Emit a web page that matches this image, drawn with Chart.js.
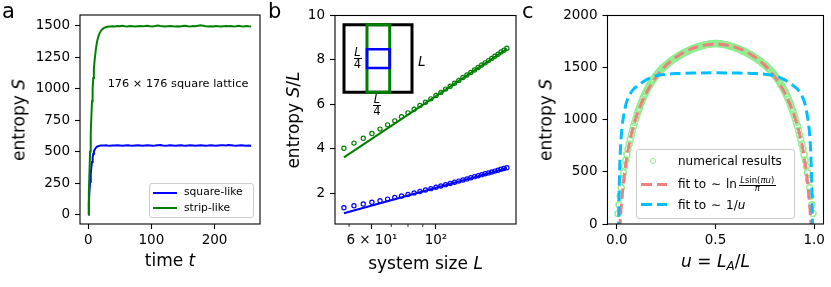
<!DOCTYPE html>
<html><head><meta charset="utf-8">
<script src="https://cdn.jsdelivr.net/npm/chart.js@4.4.1/dist/chart.umd.min.js"></script>
<style>
html,body{margin:0;padding:0;background:#fff;}
#fig{position:relative;width:831px;height:287px;overflow:hidden;font-family:"DejaVu Sans",sans-serif;color:#000;}
#fig canvas{position:absolute;left:0;top:0;}
.t{position:absolute;white-space:nowrap;line-height:1;}
.xt{font-size:17px;transform:translateX(-50%);}
.yt{font-size:17px;transform:translate(-50%,-50%) rotate(-90deg);}
.ctr{transform:translateX(-50%);}
.pl{font-size:21px;}
.leg{position:absolute;box-sizing:border-box;border:1px solid #cccccc;border-radius:3px;background:rgba(255,255,255,0.8);}
.sw{position:absolute;}
.bar{position:absolute;height:0;border-top:0.9px solid #000;}
</style></head>
<body>
<div id="fig">
<canvas id="ca" width="831" height="287"></canvas>
<canvas id="cb" width="831" height="287"></canvas>
<canvas id="cc" width="831" height="287"></canvas>
<canvas id="ci" width="831" height="287"></canvas>

<!-- panel letters -->
<div class="t pl" style="left:2px;top:1.2px">a</div>
<div class="t pl" style="left:268px;top:1.2px">b</div>
<div class="t pl" style="left:522px;top:1.2px">c</div>

<!-- panel a texts -->
<div class="t yt" style="left:19px;top:120px">entropy <i>S</i></div>
<div class="t xt" style="left:170px;top:251.6px">time <i>t</i></div>
<div class="t" style="left:107.7px;top:77.7px;font-size:11.3px">176 × 176 square lattice</div>
<div class="leg" style="left:149px;top:182.7px;width:105px;height:35.6px"></div>
<div class="sw" style="left:153px;top:191.7px;width:24px;height:2px;background:#0000ff"></div>
<div class="t" style="left:184px;top:187.4px;font-size:10.7px">square-like</div>
<div class="sw" style="left:153px;top:207.3px;width:24px;height:2px;background:#008000"></div>
<div class="t" style="left:184px;top:203.2px;font-size:10.7px">strip-like</div>

<!-- panel b texts -->
<div class="t yt" style="left:293px;top:120px">entropy <i>S</i>/<i>L</i></div>
<div class="t xt" style="left:425.5px;top:254.6px">system size <i>L</i></div>
<div class="t ctr" style="left:357.5px;top:46.5px;font-size:11.5px"><i>L</i></div>
<div class="bar" style="left:353.5px;top:58.3px;width:8px"></div>
<div class="t ctr" style="left:357.5px;top:59px;font-size:11.5px">4</div>
<div class="t" style="left:418px;top:55.3px;font-size:13.5px"><i>L</i></div>
<div class="t ctr" style="left:377px;top:94.2px;font-size:11.5px"><i>L</i></div>
<div class="bar" style="left:373px;top:105.3px;width:8px"></div>
<div class="t ctr" style="left:377px;top:105.7px;font-size:11.5px">4</div>

<!-- panel c texts -->
<div class="t yt" style="left:546px;top:120px">entropy <i>S</i></div>
<div class="t xt" style="left:715.5px;top:252.6px"><i>u</i> = <i>L</i><span style="font-size:12px;position:relative;top:3px"><i>A</i></span>/<i>L</i></div>
<div class="leg" style="left:636px;top:149.3px;width:159px;height:69.5px"></div>
<div class="sw" style="left:650.2px;top:157.6px;width:6.2px;height:6.2px;box-sizing:border-box;border:1.3px solid #90ee90;border-radius:50%"></div>
<div class="t" style="left:678px;top:154.9px;font-size:12px">numerical results</div>
<div class="sw" style="left:641px;top:182.5px;width:10.5px;height:3px;background:#f08080"></div>
<div class="sw" style="left:656.5px;top:182.5px;width:10.5px;height:3px;background:#f08080"></div>
<div class="t" style="left:678px;top:177.5px;font-size:12px">fit to</div>
<div class="t" style="left:711px;top:177.5px;font-size:12px">∼</div>
<div class="t" style="left:726px;top:177.5px;font-size:12px">ln</div>
<div class="t ctr" style="left:757.2px;top:175.8px;font-size:8.5px"><i>L</i>sin(<i>πu</i>)</div>
<div class="bar" style="left:738.5px;top:185px;width:37.5px;border-top-width:0.7px"></div>
<div class="t ctr" style="left:757.2px;top:184.3px;font-size:8.5px"><i>π</i></div>
<div class="sw" style="left:641px;top:202.8px;width:10.5px;height:3px;background:#00bfff"></div>
<div class="sw" style="left:656.5px;top:202.8px;width:10.5px;height:3px;background:#00bfff"></div>
<div class="t" style="left:678px;top:199.3px;font-size:12px">fit to</div>
<div class="t" style="left:711px;top:199.3px;font-size:12px">∼</div>
<div class="t" style="left:726px;top:199.3px;font-size:12px">1/<i>u</i></div>
</div>

<script>
// ---------------- DATA ----------------
// panel a: entropy vs time
const timeA = [0,1,2,3,4,5,6,7,8,9,10,12,14,16,18,20,22,24,26,28,30,
  34,38,42,46,50,54,58,62,66,70,74,78,82,86,90,94,98,102,106,110,114,118,122,126,130,
  134,138,142,146,150,154,158,162,166,170,174,178,182,186,190,194,198,202,206,210,214,
  218,222,226,230,234,238,242,246,250,254,258];
const squareA = [0,95,185,260,325,375,418,452,480,500,514,
  530,539,544,547,549,549,548,549,550,548,
  547,549,548,550,548,546,549,551,548,547,
  549,550,548,546,549,551,549,547,548,550,
  552,549,547,548,550,548,546,549,551,548,
  547,549,550,548,546,548,550,549,547,548,
  550,549,547,549,551,550,548,552,550,548,
  547,549,551,549,547,548,547];
const stripA = [0,170,340,500,650,780,900,1000,1085,1160,1220,
  1310,1375,1415,1443,1460,1472,1480,1486,1490,1493,
  1495,1497,1496,1499,1497,1502,1498,1496,1499,1497,
  1495,1498,1500,1497,1499,1502,1498,1496,1499,1503,
  1499,1497,1495,1498,1500,1497,1495,1498,1496,1499,
  1501,1498,1496,1499,1497,1501,1505,1501,1497,1495,
  1498,1496,1499,1497,1495,1498,1500,1497,1499,1496,
  1498,1501,1498,1496,1499,1497,1496];
const ticksTimeA = [0,100,200];
const ticksEntropyA = [0,250,500,750,1000,1250,1500];

// panel b: S/L vs system size L
const sizeL = [48,52,56,60,64,68,72,76,80,84,88,92,96,100,104,108,112,116,120,124,128,
  132,136,140,144,148,152,156,160,164,168,172,176];
const stripSL = [4.03,4.26,4.48,4.69,4.89,5.08,5.26,5.45,5.62,5.78,5.95,6.10,6.25,6.40,6.54,6.69,
  6.82,6.95,7.08,7.21,7.32,7.44,7.55,7.66,7.77,7.87,7.97,8.07,8.17,8.26,8.36,8.44,8.53];
const squareSL = [1.35,1.44,1.52,1.60,1.67,1.74,1.81,1.88,1.95,2.02,2.08,2.15,2.21,2.27,2.33,2.39,
  2.44,2.50,2.55,2.60,2.65,2.70,2.75,2.79,2.84,2.88,2.92,2.96,3.00,3.04,3.08,3.12,3.15];
const fitL = [48,176];
const fitStripSL = [3.62,8.50];
const fitSquareSL = [1.10,3.13];
const ticksSizeMajor = [60,100];
const ticksSizeLabels = ['6 × 10¹','10²'];
const ticksSizeMinor = [50,70,80,90];
const ticksSL = [2,4,6,8,10];
// inset schematic (in units of L)
const latticeX = [0,1,1,0,0], latticeY = [0,0,1,1,0];
const stripX = [0.338,0.672,0.672,0.338,0.338], stripY = [0,0,1,1,0];
const blockX = [0.338,0.672,0.672,0.338,0.338], blockY = [0.36,0.36,0.636,0.636,0.36];

// panel c: entropy vs u = L_A / L
const latticeSize = 176;
const subsystemLA = [1,2,3,4,5,6,7,8,9,10,11,12,13,14,15,16,17,18,19,20,21,22,23,24,25,
  26,27,28,29,30,31,32,33,34,35,36,37,38,39,40,41,42,43,44,45,46,47,48,49,50,
  51,52,53,54,55,56,57,58,59,60,61,62,63,64,65,66,67,68,69,70,71,72,73,74,75,
  76,77,78,79,80,81,82,83,84,85,86,87,88,89,90,91,92,93,94,95,96,97,98,99,100,
  101,102,103,104,105,106,107,108,109,110,111,112,113,114,115,116,117,118,119,120,
  121,122,123,124,125,126,127,128,129,130,131,132,133,134,135,136,137,138,139,140,
  141,142,143,144,145,146,147,148,149,150,151,152,153,154,155,156,157,158,159,160,
  161,162,163,164,165,166,167,168,169,170,171,172,173,174,175];
const numericalS = [100,185,268,348,422,490,553,612,667,718,766,812,855,897,937,975,1011,1046,1079,1110,
  1140,1168,1195,1220,1244,1266,1287,1307,1326,1344,1361,1378,1394,1409,1423,1437,1450,1462,1474,1485,
  1496,1506,1516,1525,1534,1543,1552,1560,1568,1576,1584,1591,1598,1605,1612,1618,1624,1630,1636,1642,
  1647,1653,1658,1663,1668,1673,1678,1682,1686,1690,1694,1697,1701,1704,1707,1710,1713,1716,1719,1721,
  1723,1725,1727,1728,1729,1730,1731,1731,1731,1730,1729,1728,1727,1725,1723,1721,1719,1716,1713,1710,
  1707,1704,1701,1697,1694,1690,1686,1682,1678,1673,1668,1663,1658,1653,1647,1642,1636,1630,1624,1618,
  1612,1605,1598,1591,1584,1576,1568,1560,1552,1543,1534,1525,1516,1506,1496,1485,1474,1462,1450,1437,
  1423,1409,1394,1378,1361,1344,1326,1307,1287,1266,1244,1220,1195,1168,1140,1110,1079,1046,1011,975,
  937,897,855,812,766,718,667,612,553,490,422,348,268,185,100];
const fitLogU = [0.012,0.017,0.02,0.025,0.03,0.04,0.05,0.06,0.08,0.1,0.125,0.15,0.175,0.2,0.25,
  0.3,0.35,0.4,0.45,0.5,0.55,0.6,0.65,0.7,0.75,0.8,0.825,0.85,0.875,0.9,0.92,0.94,0.95,0.96,
  0.97,0.975,0.98,0.983,0.988];
const fitLogS = [-205,0,96,227,334,502,633,739,906,1034,1159,1260,1343,1412,1521,
  1600,1657,1695,1717,1725,1717,1695,1657,1600,1521,1412,1343,1260,1159,1034,906,739,633,502,
  334,227,96,0,-205];
const fitInvU = [0.0085,0.010,0.012,0.0145,0.017,0.021,0.027,0.035,0.048,0.07,0.09,0.112,0.14,
  0.162,0.2,0.25,0.3,0.4,0.5,0.6,0.7,0.75,0.8,0.838,0.86,0.888,0.91,0.93,0.952,0.965,0.973,
  0.979,0.983,0.9855,0.988,0.990,0.9915];
const fitInvS = [-80,120,330,520,660,800,934,1040,1159,1255,1303,1335,1372,
  1395,1422,1436,1443,1448,1450,1448,1443,1436,1422,1395,1372,1335,1303,1255,1159,1040,934,
  800,660,520,330,120,-80];
const ticksU = [0,0.5,1];
const ticksEntropyC = [0,500,1000,1500,2000];

// ---------------- CHARTS ----------------
const FONT = 'DejaVu Sans';
Chart.defaults.font.family = FONT;
Chart.defaults.color = '#000';
const pts = (xs, ys) => xs.map((x, i) => ({x: x, y: ys[i]}));

const framePlugin = {
  id: 'frame',
  afterDatasetsDraw(chart) {
    const a = chart.chartArea, c = chart.ctx;
    c.save(); c.strokeStyle = '#000'; c.lineWidth = 1.1;
    c.strokeRect(a.left, a.top, a.right - a.left, a.bottom - a.top);
    c.restore();
  }
};
const minorPlugin = {
  id: 'minorTicks',
  afterDraw(chart) {
    const s = chart.scales.x, a = chart.chartArea, c = chart.ctx;
    c.save(); c.strokeStyle = '#000'; c.lineWidth = 0.8;
    ticksSizeMinor.forEach(v => {
      const p = s.getPixelForValue(v);
      c.beginPath(); c.moveTo(p, a.bottom); c.lineTo(p, a.bottom + 3); c.stroke();
    });
    c.restore();
  }
};

const YW = 60;
function axis(extra, tickVals, labelFn, isX) {
  return Object.assign({
    grid: {display: true, drawOnChartArea: false, drawTicks: true, tickLength: 5, tickColor: '#000', tickWidth: 1.1},
    border: {display: false},
    ticks: {font: {family: FONT, size: 13.5}, color: '#000', padding: isX ? 3 : 5,
            maxRotation: 0, minRotation: 0, autoSkip: false, callback: labelFn},
    afterBuildTicks: s => { s.ticks = tickVals.map(v => ({value: v})); },
    afterFit: s => { if (isX) s.height = 40; else s.width = YW; }
  }, extra);
}
function baseOptions(pad, scales) {
  return {
    responsive: false, devicePixelRatio: 1, animation: false,
    layout: {padding: pad},
    plugins: {legend: {display: false}, tooltip: {enabled: false}},
    scales: scales
  };
}

// panel a
new Chart(document.getElementById('ca'), {
  type: 'scatter',
  data: {datasets: [
    {data: pts(timeA, squareA), showLine: true, borderColor: '#0000ff', borderWidth: 2, pointRadius: 0, order: 2},
    {data: pts(timeA, stripA), showLine: true, borderColor: '#008000', borderWidth: 2, pointRadius: 0, order: 1}
  ]},
  options: baseOptions({left: 80 - YW, top: 15, right: 571, bottom: 23}, {
    x: axis({type: 'linear', min: -13, max: 272}, ticksTimeA, v => String(v), true),
    y: axis({type: 'linear', min: -76, max: 1587}, ticksEntropyA, v => String(v), false)
  }),
  plugins: [framePlugin]
});

// panel b
new Chart(document.getElementById('cb'), {
  type: 'scatter',
  data: {datasets: [
    {data: pts(sizeL, stripSL), borderColor: '#008000', backgroundColor: 'rgba(0,0,0,0)', pointRadius: 2.1, pointBorderWidth: 1.2, order: 4},
    {data: pts(sizeL, squareSL), borderColor: '#0000ff', backgroundColor: 'rgba(0,0,0,0)', pointRadius: 2.1, pointBorderWidth: 1.2, order: 3},
    {data: pts(fitL, fitStripSL), showLine: true, borderColor: '#008000', borderWidth: 2, pointRadius: 0, order: 2},
    {data: pts(fitL, fitSquareSL), showLine: true, borderColor: '#0000ff', borderWidth: 2, pointRadius: 0, order: 1}
  ]},
  options: baseOptions({left: 335 - YW, top: 15.5, right: 315, bottom: 23}, {
    x: axis({type: 'logarithmic', min: 44.7, max: 189.3}, ticksSizeMajor,
            v => ticksSizeLabels[ticksSizeMajor.indexOf(v)] || '', true),
    y: axis({type: 'linear', min: 0.62, max: 10}, ticksSL, v => String(v), false)
  }),
  plugins: [framePlugin, minorPlugin]
});

// inset schematic
new Chart(document.getElementById('ci'), {
  type: 'scatter',
  data: {datasets: [
    {data: pts(latticeX, latticeY), showLine: true, borderColor: '#000', borderWidth: 3, pointRadius: 0,
     borderJoinStyle: 'miter', borderCapStyle: 'square', clip: false, order: 3},
    {data: pts(stripX, stripY), showLine: true, borderColor: '#008000', borderWidth: 3, pointRadius: 0,
     borderJoinStyle: 'miter', borderCapStyle: 'square', clip: false, order: 2},
    {data: pts(blockX, blockY), showLine: true, borderColor: '#0000ff', borderWidth: 2.6, pointRadius: 0,
     borderJoinStyle: 'miter', borderCapStyle: 'square', clip: false, order: 1}
  ]},
  options: baseOptions({left: 344, top: 24.7, right: 419, bottom: 194.7}, {
    x: {type: 'linear', display: false, min: 0, max: 1},
    y: {type: 'linear', display: false, min: 0, max: 1}
  })
});

// panel c
const uNum = subsystemLA.map(a => a / latticeSize);
new Chart(document.getElementById('cc'), {
  type: 'scatter',
  data: {datasets: [
    {data: pts(uNum, numericalS), borderColor: '#90ee90', backgroundColor: 'rgba(0,0,0,0)', pointRadius: 3.0, pointBorderWidth: 1.4, order: 3},
    {data: pts(fitLogU, fitLogS), showLine: true, borderColor: '#f08080', borderWidth: 3, borderDash: [10.5, 5],
     pointRadius: 0, cubicInterpolationMode: 'monotone', order: 2},
    {data: pts(fitInvU, fitInvS), showLine: true, borderColor: '#00bfff', borderWidth: 3, borderDash: [10.5, 5],
     pointRadius: 0, cubicInterpolationMode: 'monotone', order: 1}
  ]},
  options: baseOptions({left: 607.5 - YW, top: 15.5, right: 7.5, bottom: 23}, {
    x: axis({type: 'linear', min: -0.047, max: 1.047}, ticksU, v => v.toFixed(1), true),
    y: axis({type: 'linear', min: 0, max: 2000}, ticksEntropyC, v => String(v), false)
  }),
  plugins: [framePlugin]
});
</script>
</body></html>
